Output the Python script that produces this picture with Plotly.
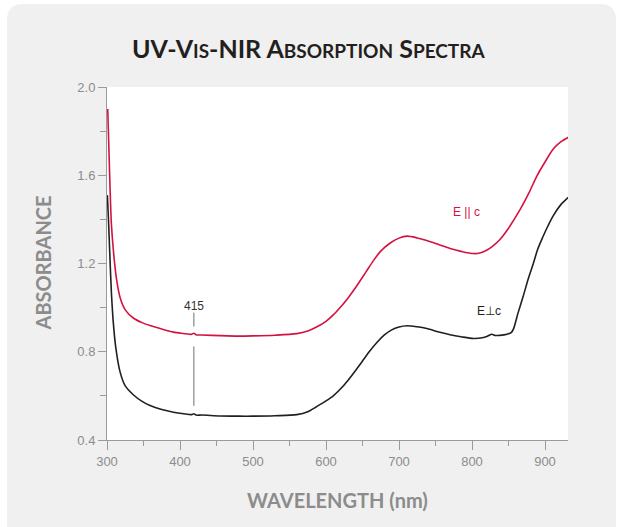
import plotly.graph_objects as go

# ---------------- data ----------------
wl_par = [301, 304, 306, 309, 313, 318, 325, 336, 348, 360, 375, 391, 405, 416, 419, 422,
          430, 455, 480, 500, 530, 560, 575, 587, 600, 610, 620, 630, 642, 655, 665, 675,
          688, 700, 711, 725, 738, 755, 770, 785, 802, 812, 820, 828, 838, 850, 866, 878,
          889, 900, 911, 922, 932]
abs_par = [1.90, 1.56, 1.38, 1.25, 1.13, 1.045, 0.99, 0.953, 0.932, 0.918, 0.903, 0.889,
           0.883, 0.879, 0.884, 0.877, 0.876, 0.873, 0.871, 0.872, 0.875, 0.882, 0.894,
           0.912, 0.938, 0.967, 1.003, 1.043, 1.098, 1.163, 1.213, 1.256, 1.293, 1.315,
           1.324, 1.316, 1.304, 1.285, 1.268, 1.255, 1.245, 1.249, 1.26, 1.278, 1.308,
           1.36, 1.445, 1.52, 1.597, 1.66, 1.718, 1.752, 1.772]

wl_perp = [300.5, 302, 304, 306, 308.7, 312, 317.8, 325, 336, 348, 359, 375, 391, 405, 416,
           419, 422, 430, 455, 480, 500, 530, 560, 575, 587, 600, 610, 620, 630, 640, 650,
           660, 670, 680, 690, 700, 711, 725, 738, 756, 770, 785, 802, 816, 822, 827, 832,
           838, 848, 854, 857, 863, 870, 877, 884, 890, 897, 904, 911, 922, 932]
abs_perp = [1.51, 1.40, 1.23, 1.07, 0.93, 0.82, 0.71, 0.645, 0.605, 0.575, 0.556, 0.538,
            0.526, 0.519, 0.515, 0.519, 0.513, 0.513, 0.509, 0.508, 0.508, 0.510, 0.515,
            0.528, 0.551, 0.577, 0.60, 0.632, 0.67, 0.713, 0.758, 0.803, 0.843, 0.876,
            0.899, 0.912, 0.918, 0.913, 0.905, 0.888, 0.877, 0.868, 0.86, 0.865, 0.872,
            0.879, 0.874, 0.874, 0.879, 0.888, 0.905, 0.975, 1.05, 1.13, 1.20, 1.265,
            1.32, 1.37, 1.415, 1.468, 1.50]

x_ticks = [300, 400, 500, 600, 700, 800, 900]
y_ticks = [0.4, 0.8, 1.2, 1.6, 2.0]

peak_label = "415"
peak_x = 419
label_par = ("E || c", 793, 1.434)
label_perp = ("E\u22a5c", 823, 0.986)

# ---------------- layout geometry ----------------
W, H = 618, 527
L, R, T, B = 107, 568, 87, 440
pw, ph = R - L, B - T

def px(xp):
    return (xp - L) / pw

def py(yp):
    return (B - yp) / ph

def rounded_panel(x0, y0, x1, y1, r):
    return (f"M {px(x0)},{py(y1)} "
            f"L {px(x0)},{py(y0 + r)} "
            f"Q {px(x0)},{py(y0)} {px(x0 + r)},{py(y0)} "
            f"L {px(x1 - r)},{py(y0)} "
            f"Q {px(x1)},{py(y0)} {px(x1)},{py(y0 + r)} "
            f"L {px(x1)},{py(y1)} Z")

RED = "#d4123f"
BLACK = "#231f20"
GRAY = "#8c8c8c"
AXIS = "#9a9a9a"

fig = go.Figure()
fig.add_trace(go.Scatter(x=wl_par, y=abs_par, mode="lines",
                         line=dict(color=RED, width=1.6, shape="spline", smoothing=0.8),
                         hoverinfo="skip", showlegend=False))
fig.add_trace(go.Scatter(x=wl_perp, y=abs_perp, mode="lines",
                         line=dict(color=BLACK, width=1.6, shape="spline", smoothing=0.8),
                         hoverinfo="skip", showlegend=False))

shapes = [
    dict(type="path", xref="paper", yref="paper", path=rounded_panel(7, 4, 616, 540, 16),
         fillcolor="#f0f0f0", line=dict(width=0), layer="below"),
    dict(type="rect", xref="paper", yref="paper", x0=0, x1=1, y0=0, y1=1,
         fillcolor="white", line=dict(width=0), layer="below"),
    dict(type="line", xref="x", yref="y", x0=peak_x, x1=peak_x, y0=0.555, y1=0.824,
         line=dict(color="#707070", width=1)),
    dict(type="line", xref="x", yref="y", x0=peak_x, x1=peak_x, y0=0.914, y1=0.977,
         line=dict(color="#707070", width=1)),
]

title_html = ("<b>UV-V<span style='font-size:19px'>IS</span>-NIR "
              "A<span style='font-size:19px'>BSORPTION</span> "
              "S<span style='font-size:19px'>PECTRA</span></b>")

annotations = [
    dict(text=title_html, xref="paper", yref="paper", x=px(308), y=1, yshift=T - 48,
         xanchor="center", yanchor="middle", showarrow=False,
         font=dict(family="Lato", size=25, color=BLACK)),
    dict(text="<b>ABSORBANCE</b>", xref="paper", yref="paper", x=0, y=0.5, xshift=-65,
         textangle=-90, xanchor="center", yanchor="middle", showarrow=False,
         font=dict(family="Lato", size=20, color=GRAY)),
    dict(text="<b>WAVELENGTH (nm)</b>", xref="paper", yref="paper", x=0.5, y=0, yshift=-60,
         xanchor="center", yanchor="middle", showarrow=False,
         font=dict(family="Lato", size=20, color=GRAY)),
    dict(text=peak_label, xref="x", yref="y", x=peak_x, y=1.009, showarrow=False,
         xanchor="center", yanchor="middle",
         font=dict(family="Liberation Sans", size=12, color="#333")),
    dict(text=label_par[0], xref="x", yref="y", x=label_par[1], y=label_par[2],
         showarrow=False, xanchor="center", yanchor="middle",
         font=dict(family="Liberation Sans", size=12, color=RED)),
    dict(text=label_perp[0], xref="x", yref="y", x=label_perp[1], y=label_perp[2],
         showarrow=False, xanchor="center", yanchor="middle",
         font=dict(family="Liberation Sans", size=12, color=BLACK)),
]

fig.update_layout(
    width=W, height=H,
    margin=dict(l=L, r=W - R, t=T, b=H - B, pad=0),
    paper_bgcolor="white", plot_bgcolor="white",
    shapes=shapes, annotations=annotations,
    showlegend=False,
)
fig.update_xaxes(range=[300, 931.5], tickvals=x_ticks, ticks="outside", ticklen=9,
                 tickcolor=AXIS, tickwidth=1, showline=True, linecolor=AXIS, linewidth=1,
                 showgrid=False, zeroline=False,
                 tickfont=dict(family="Liberation Sans", size=13, color=GRAY),
                 minor=dict(dtick=50, tick0=300, ticks="outside", ticklen=5, tickcolor=AXIS,
                            showgrid=False))
fig.update_yaxes(range=[0.4, 2.0], tickvals=y_ticks, tickformat=".1f", ticks="outside",
                 ticklen=8, tickcolor=AXIS, tickwidth=1, showline=True, linecolor=AXIS,
                 linewidth=1, showgrid=False, zeroline=False,
                 tickfont=dict(family="Liberation Sans", size=13, color=GRAY),
                 minor=dict(dtick=0.2, tick0=0.4, ticks="outside", ticklen=6,
                            tickcolor=AXIS, showgrid=False))

fig.write_html("out.html", config={"displayModeBar": False},
               post_script="document.body.style.margin='0';document.body.style.overflow='hidden';")
